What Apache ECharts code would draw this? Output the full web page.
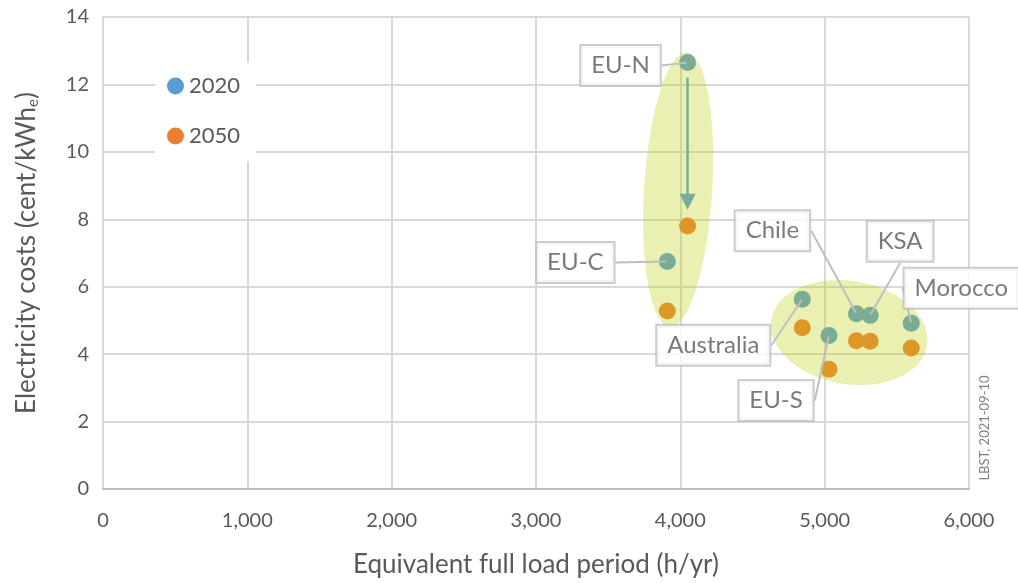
<!DOCTYPE html>
<html><head><meta charset="utf-8">
<script src="https://cdn.jsdelivr.net/npm/echarts@6/dist/echarts.min.js"></script>
<style>html,body{margin:0;padding:0;background:#fff}#c{width:1018px;height:583px}</style>
</head><body><div id="c"></div>
<script>
// ---- data ----
const regions = ['EU-N', 'EU-C', 'Australia', 'Chile', 'KSA', 'Morocco', 'EU-S'];
const fullLoadHours = [4050, 3910, 4845, 5220, 5315, 5600, 5030];
const cost2020 = [12.65, 6.75, 5.63, 5.20, 5.15, 4.92, 4.55];
const cost2050 = [7.80, 5.28, 4.78, 4.40, 4.38, 4.18, 3.55];
const seriesNames = ['2020', '2050'];
const xTicks = [0, 1000, 2000, 3000, 4000, 5000, 6000];
const yTicks = [0, 2, 4, 6, 8, 10, 12, 14];

// ---- annotation layout (not data) ----
const labelOffsets = [[-67, 3], [-92, 1], [-89, 46], [-84, -83], [30, -74], [50, -35], [-53, 65]];
// ellipses: centre x, centre y, half-width (h), half-height (cent), rotation (deg)
const ellipses = [[3985, 8.88, 236, 4.08, 3.5], [5170, 4.64, 547, 1.53, 9.5]];
const arrowFromTo = [[4050, 12.2], [4050, 8.52]];

const C2020 = '#5B9BD5', C2050 = '#ED7D31', TXT = '#595959';
const FONT = 'Lato, "Open Sans", sans-serif';

const chart = echarts.init(document.getElementById('c'));
chart.setOption({
  animation: false,
  textStyle: { fontFamily: FONT },
  grid: { left: 103, right: 49, top: 17, bottom: 93 },
  legend: {
    data: seriesNames, orient: 'vertical', left: 155, top: 63,
    backgroundColor: '#fff', padding: [12, 16, 14, 12], itemGap: 28,
    icon: 'circle', itemWidth: 17, itemHeight: 17, itemStyle: {borderWidth: 0},
    textStyle: { color: TXT, fontSize: 22, fontFamily: FONT }
  },
  xAxis: {
    type: 'value', min: xTicks[0], max: xTicks[xTicks.length - 1], interval: 1000,
    name: 'Equivalent full load period (h/yr)', nameLocation: 'middle', nameGap: 63,
    nameTextStyle: { color: TXT, fontSize: 26, fontFamily: FONT },
    axisLine: { show: true, lineStyle: { color: '#BFBFBF', width: 2 } },
    axisTick: { show: false },
    axisLabel: { color: TXT, fontSize: 20, margin: 22, formatter: v => v.toLocaleString('en-US') },
    splitLine: { show: true, lineStyle: { color: '#D9D9D9', width: 2 } }
  },
  yAxis: {
    type: 'value', min: yTicks[0], max: yTicks[yTicks.length - 1], interval: 2,
    name: 'Electricity costs (cent/kWh{sub|e})', nameLocation: 'middle', nameGap: 62, nameRotate: 90,
    nameTextStyle: { color: TXT, fontSize: 26, fontFamily: FONT,
      rich: { sub: { fontSize: 15, color: TXT, fontFamily: FONT, padding: [14, 0, 0, 0] } } },
    axisLine: { show: true, lineStyle: { color: '#D9D9D9', width: 2 } },
    axisTick: { show: false },
    axisLabel: { color: TXT, fontSize: 20, margin: 14 },
    splitLine: { show: true, lineStyle: { color: '#D9D9D9', width: 2 } }
  },
  graphic: [{
    type: 'text', x: 985, y: 428, rotation: Math.PI / 2, silent: true,
    style: { text: 'LBST, 2021-09-10', fill: '#7F7F7F', font: '13px ' + FONT, align: 'center', verticalAlign: 'middle' }
  }],
  series: [
    {
      name: seriesNames[0], type: 'scatter', z: 2, symbolSize: 17,
      itemStyle: { color: C2020, opacity: 1 },
      data: fullLoadHours.map((x, i) => [x, cost2020[i]])
    },
    {
      name: seriesNames[1], type: 'scatter', z: 2, symbolSize: 17,
      itemStyle: { color: C2050, opacity: 1 },
      data: fullLoadHours.map((x, i) => [x, cost2050[i]])
    },
    {
      name: 'arrow', type: 'lines', coordinateSystem: 'cartesian2d', z: 2, silent: true,
      symbol: ['none', 'triangle'], symbolSize: [17, 16],
      lineStyle: { color: C2020, width: 2.5, opacity: 1 },
      data: [{ coords: arrowFromTo }]
    },
    {
      name: 'ellipses', type: 'custom', z: 3, silent: true,
      data: ellipses,
      encode: { x: 0, y: 1 },
      renderItem: function (params, api) {
        const c = api.coord([api.value(0), api.value(1)]);
        const s = api.size([api.value(2), api.value(3)]);
        const th = api.value(4) * Math.PI / 180;
        const pts = [];
        for (let k = 0; k < 120; k++) {
          const t = k / 120 * Math.PI * 2;
          const ex = s[0] * Math.cos(t), ey = s[1] * Math.sin(t);
          pts.push([c[0] + ex * Math.cos(th) - ey * Math.sin(th), c[1] + ex * Math.sin(th) + ey * Math.cos(th)]);
        }
        return { type: 'polygon', shape: { points: pts }, style: { fill: 'rgba(189,208,14,0.32)', stroke: null } };
      }
    },
    {
      name: 'labels', type: 'scatter', z: 5, symbolSize: 2, silent: true,
      itemStyle: { color: 'rgba(0,0,0,0)' },
      data: fullLoadHours.map((x, i) => [x, cost2020[i]]),
      label: {
        show: true, position: 'inside', formatter: p => regions[p.dataIndex],
        color: TXT, fontSize: 24, fontFamily: FONT,
        backgroundColor: '#fff', borderColor: '#BFBFBF', borderWidth: 2, padding: [8, 10, 7, 10]
      },
      labelLine: { show: true, lineStyle: { color: '#BFBFBF', width: 2 } },
      labelLayout: p => ({ dx: labelOffsets[p.dataIndex][0], dy: labelOffsets[p.dataIndex][1] }),
      emphasis: { disabled: true }
    }
  ]
});
</script></body></html>
